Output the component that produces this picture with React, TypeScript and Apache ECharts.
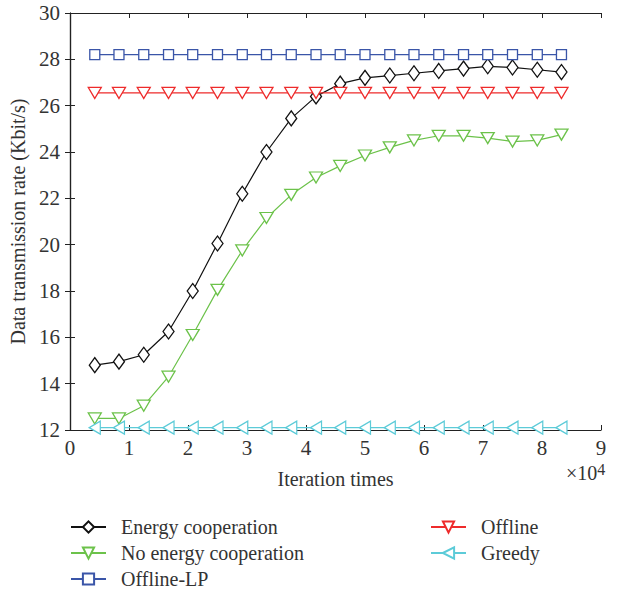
import React, { useEffect, useRef } from "react";
import * as echarts from "echarts";

const xValues = [0.42, 0.83, 1.25, 1.67, 2.08, 2.5, 2.92, 3.33, 3.75, 4.17, 4.58, 5.0, 5.42, 5.83, 6.25, 6.67, 7.08, 7.5, 7.92, 8.33];
const energyCoop = [14.8, 14.95, 15.25, 16.25, 18.0, 20.05, 22.2, 24.0, 25.45, 26.4, 26.95, 27.2, 27.3, 27.4, 27.5, 27.6, 27.7, 27.65, 27.55, 27.45];
const noEnergyCoop = [12.5, 12.5, 13.05, 14.3, 16.1, 18.05, 19.75, 21.15, 22.15, 22.9, 23.4, 23.85, 24.2, 24.5, 24.7, 24.7, 24.6, 24.45, 24.5, 24.75];
const offlineLP = [28.2, 28.2, 28.2, 28.2, 28.2, 28.2, 28.2, 28.2, 28.2, 28.2, 28.2, 28.2, 28.2, 28.2, 28.2, 28.2, 28.2, 28.2, 28.2, 28.2];
const offline = [26.55, 26.55, 26.55, 26.55, 26.55, 26.55, 26.55, 26.55, 26.55, 26.55, 26.55, 26.55, 26.55, 26.55, 26.55, 26.55, 26.55, 26.55, 26.55, 26.55];
const greedy = [12.1, 12.1, 12.1, 12.1, 12.1, 12.1, 12.1, 12.1, 12.1, 12.1, 12.1, 12.1, 12.1, 12.1, 12.1, 12.1, 12.1, 12.1, 12.1, 12.1];

const FONT = "Liberation Serif";

function pairs(ys: number[]) {
  return xValues.map((x, i) => [x, ys[i]]);
}

export default function App() {
  const ref = useRef<HTMLDivElement>(null);
  useEffect(() => {
    document.body.style.margin = "0";
    if (!ref.current) return;
    const chart = echarts.init(ref.current, undefined, { renderer: "svg" });
    const mk = (name: string, data: number[], color: string, symbol: string, size: number | number[], rotate = 0) => ({
      name,
      type: "line",
      data: pairs(data),
      symbol,
      symbolSize: size,
      symbolRotate: rotate,
      showAllSymbol: true,
      lineStyle: { color, width: 1.2 },
      itemStyle: { color: "#ffffff", borderColor: color, borderWidth: 1.3 },
      emphasis: { disabled: true },
    });
    const axisLine = { show: true, lineStyle: { color: "#222", width: 1.2 } };
    const axisTick = { show: true, inside: true, length: 5, lineStyle: { color: "#222" } };
    const legendText = { color: "#333", fontSize: 20, fontFamily: FONT, padding: [0, 0, 0, 10] };
    chart.setOption({
      animation: false,
      textStyle: { fontFamily: FONT },
      grid: { left: 70, right: 18, top: 13, bottom: 163 },
      xAxis: [
        {
          type: "value", min: 0, max: 9, interval: 1,
          axisLine, axisTick,
          splitLine: { show: false },
          axisLabel: { color: "#333", fontSize: 21, fontFamily: FONT, margin: 7 },
          name: "Iteration times", nameLocation: "middle", nameGap: 39,
          nameTextStyle: { color: "#333", fontSize: 20, fontFamily: FONT },
        },
        {
          type: "value", min: 0, max: 9, interval: 1, position: "top",
          axisLine, axisTick, splitLine: { show: false }, axisLabel: { show: false },
        },
      ],
      yAxis: [
        {
          type: "value", min: 12, max: 30, interval: 2,
          axisLine, axisTick,
          splitLine: { show: false },
          axisLabel: { color: "#333", fontSize: 21, fontFamily: FONT, margin: 10 },
          name: "Data transmission rate (Kbit/s)", nameLocation: "middle", nameGap: 41,
          nameTextStyle: { color: "#333", fontSize: 20, fontFamily: FONT },
        },
        {
          type: "value", min: 12, max: 30, interval: 2, position: "right",
          axisLine, axisTick, splitLine: { show: false }, axisLabel: { show: false },
        },
      ],
      legend: [
        {
          data: ["Energy cooperation", "No energy cooperation", "Offline-LP"],
          orient: "vertical", left: 70, top: 517, height: 80, padding: 0, itemGap: 6, itemWidth: 35, itemHeight: 14,
          textStyle: legendText,
        },
        {
          data: ["Offline", "Greedy"],
          orient: "vertical", left: 430, top: 517, height: 80, padding: 0, itemGap: 6, itemWidth: 35, itemHeight: 14,
          textStyle: legendText,
        },
      ],
      graphic: [
        {
          type: "text", left: 566, top: 461,
          style: {
            text: "×10{sup|4}",
            fill: "#333",
            font: `20px ${FONT}`,
            rich: { sup: { fontSize: 16, fontFamily: FONT, verticalAlign: "top", padding: [0, 0, 8, 0] } },
          },
        },
      ],
      series: [
        mk("Energy cooperation", energyCoop, "#111111", "diamond", [11, 15]),
        mk("No energy cooperation", noEnergyCoop, "#6cc24a", "triangle", [13, 11], 180),
        mk("Offline-LP", offlineLP, "#3a55a8", "rect", 10),
        mk("Offline", offline, "#ee2b2b", "triangle", [13, 11], 180),
        mk("Greedy", greedy, "#5ccbd8", "triangle", [13, 11], 90),
      ],
    });
    return () => chart.dispose();
  }, []);
  return <div ref={ref} style={{ width: 619, height: 593 }} />;
}
